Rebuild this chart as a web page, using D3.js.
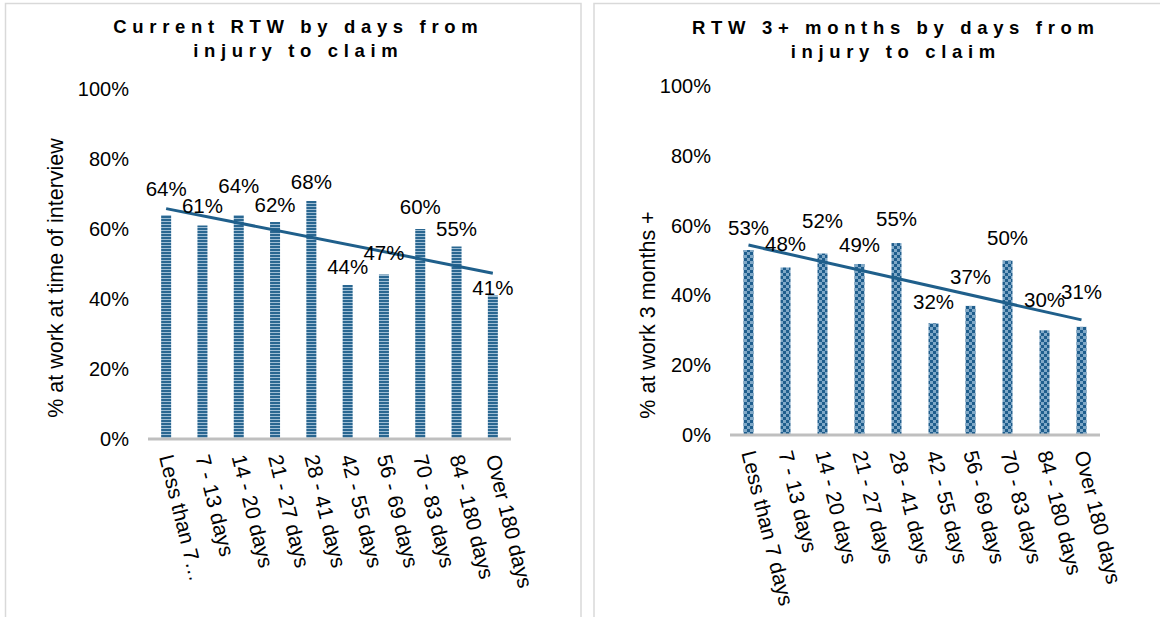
<!DOCTYPE html>
<html>
<head>
<meta charset="utf-8">
<script src="https://cdn.jsdelivr.net/npm/d3@7"></script>
<style>
  html, body { margin: 0; padding: 0; background: #fff; }
  svg { display: block; font-family: "Liberation Sans", Arial, sans-serif; }
</style>
</head>
<body>
<svg id="chart" width="1160" height="617"></svg>
<script>
// ---------- data ----------
const categories = ["Less than 7 days", "7 - 13 days", "14 - 20 days", "21 - 27 days", "28 - 41 days",
                    "42 - 55 days", "56 - 69 days", "70 - 83 days", "84 - 180 days", "Over 180 days"];
const categoryLabelsLeft = ["Less than 7…", "7 - 13 days", "14 - 20 days", "21 - 27 days", "28 - 41 days",
                    "42 - 55 days", "56 - 69 days", "70 - 83 days", "84 - 180 days", "Over 180 days"];
const currentRTW = [64, 61, 64, 62, 68, 44, 47, 60, 55, 41];
const rtw3Months = [53, 48, 52, 49, 55, 32, 37, 50, 30, 31];
const yTicks = [0, 20, 40, 60, 80, 100];
const titleLeft = ["Current RTW by days from", "injury to claim"];
const titleRight = ["RTW 3+ months by days from", "injury to claim"];
const yTitleLeft = "% at work at time of interview";
const yTitleRight = "% at work 3 months +";

// ---------- layout (label lift above bar top, px) ----------
const labelLiftLeft = [26, 20, 29, 17, 19, 18, 22, 22, 18, 8];
const labelLiftRight = [22, 24, 33, 19, 24, 21, 29, 23, 30, 35];

const svg = d3.select("#chart");
const defs = svg.append("defs");

// horizontal stripe pattern
const pStripe = defs.append("pattern").attr("id", "stripe")
  .attr("patternUnits", "userSpaceOnUse").attr("width", 12).attr("height", 3);
pStripe.append("rect").attr("width", 12).attr("height", 3).attr("fill", "#2a6791");
pStripe.append("rect").attr("y", 2).attr("width", 12).attr("height", 1).attr("fill", "#9fbed5");

// checker pattern
const pCheck = defs.append("pattern").attr("id", "checker")
  .attr("patternUnits", "userSpaceOnUse").attr("width", 6).attr("height", 6);
pCheck.append("rect").attr("width", 6).attr("height", 6).attr("fill", "#7fa8c7");
pCheck.append("rect").attr("width", 3).attr("height", 3).attr("fill", "#1f5e8d");
pCheck.append("rect").attr("x", 3).attr("y", 3).attr("width", 3).attr("height", 3).attr("fill", "#1f5e8d");

// panel frames
svg.append("rect").attr("x", 5.5).attr("y", 3.5).attr("width", 575.5).attr("height", 700)
  .attr("fill", "none").attr("stroke", "#d9d9d9").attr("stroke-width", 1.5);
svg.append("rect").attr("x", 594).attr("y", 3.5).attr("width", 700).attr("height", 700)
  .attr("fill", "none").attr("stroke", "#d9d9d9").attr("stroke-width", 1.5);

function drawChart(cfg) {
  const g = svg.append("g");
  const x = d3.scaleBand().domain(categories).range([cfg.x0, cfg.x1]);
  const y = d3.scaleLinear().domain([0, 100]).range([cfg.yBase, cfg.yTop]);
  const cx = c => x(c) + x.bandwidth() / 2;

  // title
  const ls = 5.65;
  cfg.title.forEach((t, i) => {
    g.append("text").attr("x", cfg.titleX + ls / 2).attr("y", cfg.titleY + i * 24)
      .attr("text-anchor", "middle").attr("font-weight", "bold").attr("font-size", 18.5)
      .attr("letter-spacing", ls).attr("fill", "#000").text(t);
  });

  // y tick labels
  g.selectAll(".ytick").data(yTicks).enter().append("text")
    .attr("x", cfg.tickX).attr("y", d => y(d)).attr("dy", "0.35em")
    .attr("text-anchor", "end").attr("font-size", 20).attr("fill", "#000")
    .text(d => d + "%");

  // y axis title
  g.append("text").attr("transform", `translate(${cfg.yTitleX},${cfg.yTitleY}) rotate(-90)`)
    .attr("text-anchor", "middle").attr("dy", "0.35em").attr("font-size", 21.5).attr("fill", "#000")
    .text(cfg.yTitle);

  // bars
  const barW = 10;
  g.selectAll(".bar").data(cfg.values).enter().append("rect")
    .attr("x", (d, i) => cx(categories[i]) - barW / 2)
    .attr("y", d => y(d))
    .attr("width", barW)
    .attr("height", d => y(0) - y(d))
    .attr("fill", `url(#${cfg.pattern})`);

  // baseline
  g.append("line").attr("x1", cfg.x0).attr("x2", cfg.x1)
    .attr("y1", y(0)).attr("y2", y(0)).attr("stroke", "#bfbfbf").attr("stroke-width", 3);

  // linear trend line (least squares)
  const n = cfg.values.length;
  const xs = d3.range(n);
  const mx = d3.mean(xs), my = d3.mean(cfg.values);
  const slope = d3.sum(xs, i => (i - mx) * (cfg.values[i] - my)) / d3.sum(xs, i => (i - mx) ** 2);
  const icpt = my - slope * mx;
  const line = d3.line().x(i => cx(categories[i])).y(i => y(icpt + slope * i));
  g.append("path").datum([0, n - 1]).attr("d", line)
    .attr("fill", "none").attr("stroke", "#1f5f8b").attr("stroke-width", 3);

  // data labels
  g.selectAll(".dl").data(cfg.values).enter().append("text")
    .attr("x", (d, i) => cx(categories[i]))
    .attr("y", (d, i) => y(d) - cfg.lift[i])
    .attr("dy", "0.35em").attr("text-anchor", "middle")
    .attr("font-size", 20.5).attr("fill", "#000")
    .text(d => d + "%");

  // category labels
  g.selectAll(".cat").data(cfg.catLabels).enter().append("text")
    .attr("transform", (d, i) => `translate(${cx(categories[i])},${y(0) + cfg.catGap}) rotate(76)`)
    .attr("dy", "0.35em").attr("text-anchor", "start")
    .attr("font-size", 21).attr("fill", "#000")
    .text(d => d);
}

drawChart({
  values: currentRTW, catLabels: categoryLabelsLeft, pattern: "stripe", lift: labelLiftLeft,
  x0: 148, x1: 511, yBase: 439, yTop: 89,
  title: titleLeft, titleX: 295.5, titleY: 33,
  tickX: 129, yTitle: yTitleLeft, yTitleX: 55, yTitleY: 278, catGap: 16
});

drawChart({
  values: rtw3Months, catLabels: categories, pattern: "checker", lift: labelLiftRight,
  x0: 730, x1: 1100, yBase: 435, yTop: 86,
  title: titleRight, titleX: 893, titleY: 34,
  tickX: 711, yTitle: yTitleRight, yTitleX: 647, yTitleY: 315, catGap: 16
});
</script>
</body>
</html>
